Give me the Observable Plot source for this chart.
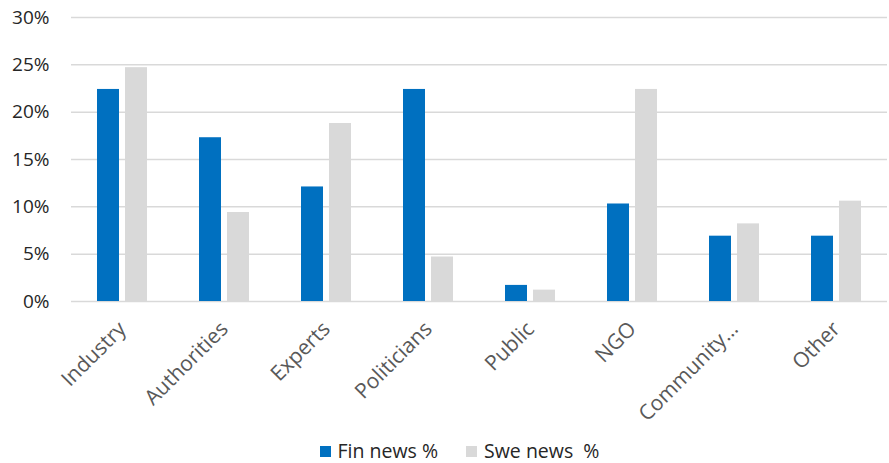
<!DOCTYPE html>
<html>
<head>
<meta charset="utf-8">
<script src="https://cdn.jsdelivr.net/npm/d3@7"></script>
<script src="https://cdn.jsdelivr.net/npm/@observablehq/plot@0.6"></script>
<style>
  html, body { margin: 0; padding: 0; background: #fff; }
  #chart { width: 889px; }
  #chart svg g[aria-label="fx-axis tick label"] text,
  #chart svg g[aria-label="fx-axis"] text { font-size: 21px; }
  #chart svg g[aria-label="y-axis tick label"] text,
  #chart svg g[aria-label="y-axis"] text { fill: #262626; }
  .legend { display: flex; justify-content: center; align-items: center; padding-top: 20px; padding-left: 30px;
            font-family: "Open Sans", sans-serif; font-size: 19.5px; color: #262626; line-height: 22px; }
  .legend .item { display: flex; align-items: center; margin: 0 14px; white-space: pre; }
  .legend .sw { width: 11px; height: 11px; margin-right: 7px; display: inline-block; }
</style>
</head>
<body>
<div id="chart"></div>
<script>
const categories = ["Industry", "Authorities", "Experts", "Politicians", "Public", "NGO", "Community…", "Other"];
const finValues = [22.4, 17.3, 12.1, 22.4, 1.7, 10.3, 6.9, 6.9];
const sweValues = [24.7, 9.4, 18.8, 4.7, 1.2, 22.4, 8.2, 10.6];
const seriesNames = ["Fin news %", "Swe news  %"];
const seriesColors = ["#0070C0", "#D9D9D9"];
const yTicks = [0, 5, 10, 15, 20, 25, 30];

const rows = [];
categories.forEach((c, i) => {
  rows.push({category: c, series: seriesNames[0], value: finValues[i]});
  rows.push({category: c, series: seriesNames[1], value: sweValues[i]});
});

const plot = Plot.plot({
  width: 889,
  height: 420,
  marginTop: 17,
  marginLeft: 68,
  marginRight: 0,
  marginBottom: 119,
  style: {fontFamily: "'Open Sans', sans-serif", fontSize: "19px", color: "#595959", background: "#fff", overflow: "visible"},
  fx: {domain: categories, paddingInner: 0, paddingOuter: 0, tickRotate: -45, tickSize: 0, tickPadding: 24, label: null},
  x: {domain: seriesNames, paddingInner: 0.2, paddingOuter: 0.9, axis: null},
  y: {domain: [0, 30], ticks: yTicks, tickFormat: d => d + "%", tickSize: 0, tickPadding: 22, label: null},
  color: {domain: seriesNames, range: seriesColors},
  marks: [
    Plot.ruleY(yTicks, {stroke: "#D9D9D9", strokeWidth: 1.5}),
    Plot.barY(rows, {fx: "category", x: "series", y: "value", fill: "series"})
  ]
});
document.getElementById("chart").appendChild(plot);

const legend = document.createElement("div");
legend.className = "legend";
seriesNames.forEach((name, i) => {
  const item = document.createElement("span");
  item.className = "item";
  const sw = document.createElement("span");
  sw.className = "sw";
  sw.style.background = seriesColors[i];
  item.appendChild(sw);
  item.appendChild(document.createTextNode(name));
  legend.appendChild(item);
});
document.getElementById("chart").appendChild(legend);
</script>
</body>
</html>
